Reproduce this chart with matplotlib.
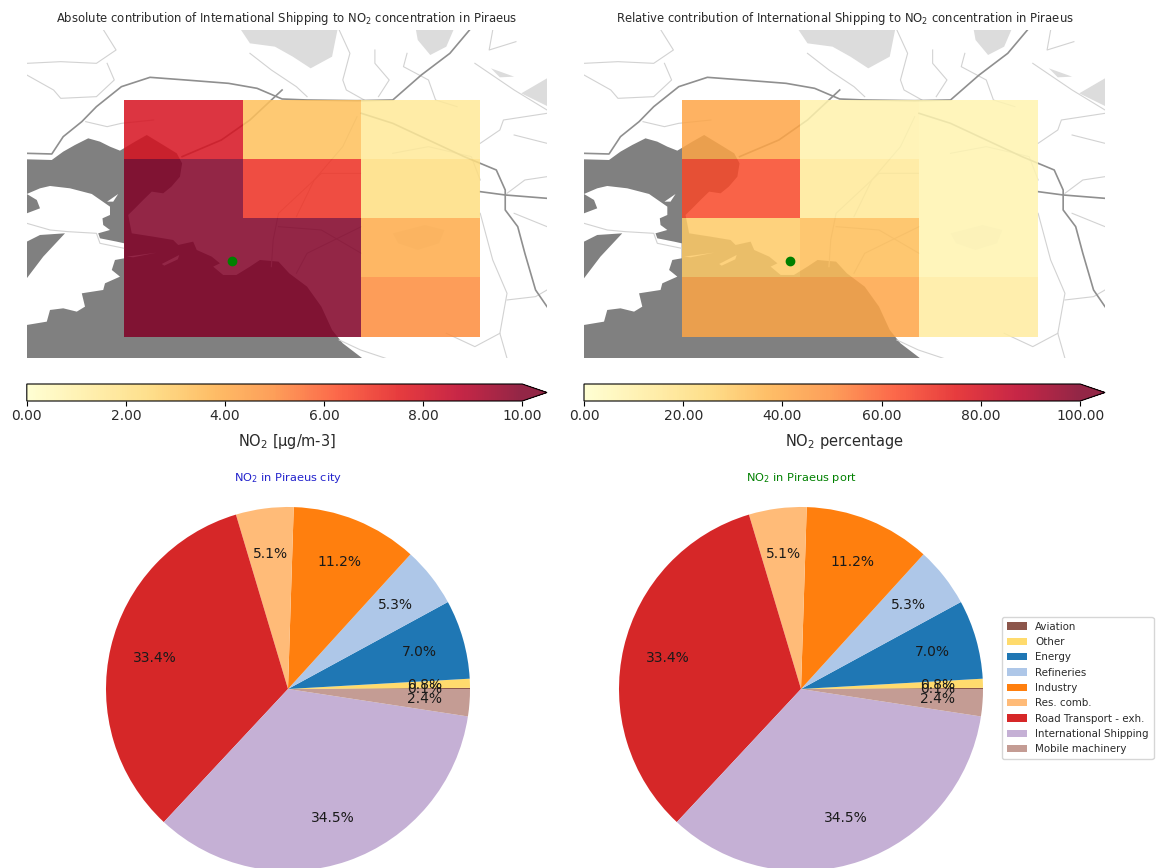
import matplotlib
matplotlib.use('Agg')
import matplotlib.pyplot as plt
import numpy as np
from matplotlib.patches import Polygon

W, H = 1161, 868

# map coordinates are pixels of the basemap
x_edges = [348, 680, 1012, 1344]
y_edges = [300, 477, 655, 832, 1012]
abs_no2 = [[7.9, 3.3, 1.5],
           [11.0, 7.0, 2.2],
           [11.0, 10.6, 4.0],
           [11.0, 10.6, 5.0]]
rel_no2 = [[42, 9, 8],
           [64, 15, 8],
           [30, 34, 8],
           [42, 42, 13]]
point_xy = (650, 782)

sea = [(75, 478), (145, 480), (177, 455), (210, 435), (247, 415), (280, 425), (308, 440), (336, 452),
       (378, 425), (411, 405), (457, 435), (495, 460), (510, 490), (504, 530), (480, 560), (457, 580),
       (425, 575), (401, 600), (378, 625), (359, 645), (369, 700), (429, 710), (485, 720), (499, 735),
       (541, 725), (551, 750), (593, 770), (616, 790), (597, 800), (625, 825), (662, 825), (700, 800),
       (728, 780), (780, 785), (810, 820), (860, 860), (900, 920), (930, 990), (960, 1030), (1015, 1075),
       (75, 1075)]
salamina = [(112, 565), (140, 558), (196, 565), (257, 582), (308, 620), (308, 645), (287, 655), (289, 675),
            (308, 690), (275, 700), (280, 715), (327, 725), (348, 730), (348, 775), (322, 780), (313, 810),
            (336, 830), (294, 850), (289, 870), (229, 880), (238, 920), (215, 935), (177, 925), (140, 930),
            (131, 965), (75, 975), (75, 835), (121, 770), (182, 700), (112, 705), (75, 725), (75, 640),
            (112, 625), (103, 600), (75, 582)]
islets = [[(355, 770), (439, 758), (373, 772)],
          [(453, 792), (502, 765), (498, 778), (460, 797)],
          [(300, 605), (331, 582), (317, 605)]]
hills = [[(675, 90), (945, 90), (930, 170), (870, 205), (820, 170), (770, 140), (700, 130)],
         [(1165, 90), (1270, 90), (1250, 140), (1205, 165), (1170, 120)],
         [(1460, 280), (1532, 235), (1532, 318)],
         [(1375, 205), (1440, 230), (1400, 232)]]
hill_faint = [(1100, 700), (1190, 675), (1245, 690), (1230, 730), (1170, 750), (1115, 730)]
motorways = [[(75, 460), (145, 462), (177, 410), (229, 365), (270, 320), (340, 260), (420, 232), (520, 240),
              (640, 250), (720, 265), (790, 297), (860, 300), (1000, 302), (1100, 300), (1180, 225),
              (1260, 160), (1315, 90)],
             [(1012, 340), (1100, 370), (1200, 420), (1300, 470), (1345, 490), (1390, 510), (1415, 570),
              (1415, 630), (1450, 680), (1470, 760), (1500, 870), (1532, 920)],
             [(1345, 575), (1415, 585), (1532, 595)],
             [(790, 270), (765, 295), (700, 360), (620, 420), (510, 470)]]
roads = [[(75, 190), (170, 185), (270, 190), (325, 150), (290, 90)],
         [(75, 225), (150, 270), (170, 295), (270, 290), (320, 240), (300, 190)],
         [(240, 365), (300, 380), (340, 370), (430, 360)],
         [(700, 160), (760, 210), (830, 260), (860, 290)],
         [(950, 90), (980, 160), (960, 240), (970, 270), (1020, 300)],
         [(1050, 150), (1050, 190), (1090, 240), (1060, 290)],
         [(1140, 160), (1130, 200), (1200, 240), (1220, 300), (1280, 320)],
         [(1330, 190), (1440, 270), (1532, 330)],
         [(1380, 90), (1370, 150), (1445, 125)],
         [(1345, 430), (1400, 390), (1410, 360), (1532, 340)],
         [(1440, 405), (1532, 430)],
         [(1532, 530), (1470, 540), (1420, 580)],
         [(1440, 640), (1532, 680)],
         [(1010, 520), (900, 520), (780, 640), (765, 720), (760, 800)],
         [(1000, 350), (960, 440), (880, 540), (830, 650)],
         [(1345, 540), (1320, 470), (1200, 440), (1100, 460)],
         [(1345, 640), (1380, 780), (1420, 880), (1400, 1000), (1420, 1075)],
         [(1420, 900), (1500, 890), (1532, 870)],
         [(1012, 680), (860, 760), (830, 820)],
         [(1012, 760), (900, 690), (780, 680)],
         [(950, 1020), (1010, 1050), (1080, 1075)],
         [(1250, 1000), (1330, 1040), (1400, 1000)],
         [(75, 670), (140, 690), (190, 695), (270, 700), (280, 730), (348, 745)]]

pie_labels = ['Aviation', 'Other', 'Energy', 'Refineries', 'Industry', 'Res. comb.',
              'Road Transport - exh.', 'International Shipping', 'Mobile machinery']
# printed shares only add up to 99.8, the two big ones are a bit under so the labels still come out right
pie_values = [0.1, 0.8, 7.0, 5.3, 11.2, 5.1, 33.3, 34.4, 2.4]
pie_colors = ['#8c564b', '#ffdb6d', '#1f77b4', '#aec7e8', '#ff7f0e', '#ffbb78', '#d62728', '#c5b0d5', '#c49c94']

plt.rcParams['text.color'] = '#2a2a2a'
plt.rcParams['axes.labelcolor'] = '#2a2a2a'
plt.rcParams['xtick.labelcolor'] = '#2a2a2a'


def px_axes(fig, left, top, right, bottom):
    return fig.add_axes([left / W, 1 - bottom / H, (right - left) / W, (bottom - top) / H])


def draw_map(ax, values, vmax, title):
    ax.add_patch(Polygon(sea, fc='#808080', ec='none', zorder=1))
    ax.add_patch(Polygon(salamina, fc='white', ec='none', zorder=1.1))
    for p in islets:
        ax.add_patch(Polygon(p, fc='white', ec='none', zorder=1.1))
    for p in hills:
        ax.add_patch(Polygon(p, fc='#dcdcdc', ec='none', zorder=1))
    ax.add_patch(Polygon(hill_faint, fc='#ececec', ec='none', zorder=1))
    for r in roads:
        xs, ys = zip(*r)
        ax.plot(xs, ys, color='#d2d2d2', lw=0.8, zorder=1.5)
    for r in motorways:
        xs, ys = zip(*r)
        ax.plot(xs, ys, color='#8f8f8f', lw=1.2, zorder=1.6)
    mesh = ax.pcolormesh(x_edges, y_edges, np.array(values), cmap='YlOrRd', vmin=0, vmax=vmax,
                         alpha=0.85, zorder=2, linewidth=0)
    ax.plot(*point_xy, 'o', color='green', ms=6, zorder=3)
    ax.set_xlim(75, 1532)
    ax.set_ylim(1075, 90)
    ax.axis('off')
    ax.set_title(title, fontsize=8.4, pad=5.5)
    return mesh


def draw_cbar(fig, mesh, left, right, vmax, label):
    cax = px_axes(fig, left, 384, right, 401)
    cb = fig.colorbar(mesh, cax=cax, orientation='horizontal', extend='max', extendfrac=0.05)
    cb.set_ticks(np.linspace(0, vmax, 6))
    cb.ax.set_xticklabels(['%.2f' % t for t in np.linspace(0, vmax, 6)], fontsize=10)
    cb.ax.tick_params(pad=2.5)
    cb.set_label(label, fontsize=10.5)
    # label sits in the middle of the whole bar, triangle included
    cb.ax.xaxis.set_label_coords(0.525, -1.82)


def draw_pie(ax, title, color):
    wedges, _, _ = ax.pie(pie_values, colors=pie_colors, autopct='%1.1f%%', pctdistance=0.75,
                          textprops={'fontsize': 10, 'color': '#1a1a1a'})
    ax.set_xlim(-1, 1)
    ax.set_ylim(-1, 1)
    for w in wedges:
        w.set_clip_on(False)
    ax.set_title(title, fontsize=8.2, color=color, pad=18.5)
    return wedges


fig = plt.figure(figsize=(W / 100, H / 100), dpi=100)

ax1 = px_axes(fig, 26.8, 30, 547, 358.3)
ax2 = px_axes(fig, 584, 30, 1105, 358.3)
m1 = draw_map(ax1, abs_no2, 10, 'Absolute contribution of International Shipping to NO$_2$ concentration in Piraeus')
m2 = draw_map(ax2, rel_no2, 100, 'Relative contribution of International Shipping to NO$_2$ concentration in Piraeus')

draw_cbar(fig, m1, 26.8, 547, 10, 'NO$_2$ [µg/m-3]')
draw_cbar(fig, m2, 584, 1105, 100, 'NO$_2$ percentage')

pie1 = px_axes(fig, 106, 507, 470, 871)
pie2 = px_axes(fig, 619, 507, 983, 871)
draw_pie(pie1, 'NO$_2$ in Piraeus city', '#2222cc')
wedges = draw_pie(pie2, 'NO$_2$ in Piraeus port', 'green')

fig.legend(wedges, pie_labels, loc='upper left', bbox_to_anchor=(1002 / W, 1 - 617 / H), borderaxespad=0,
           fontsize=7.4, labelspacing=0.52, handlelength=2.0, borderpad=0.45)

fig.savefig('out.png', dpi=100)
